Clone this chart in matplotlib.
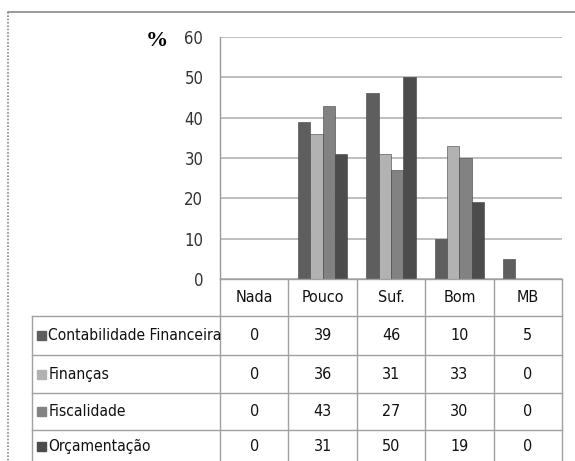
import matplotlib
matplotlib.use("Agg")
import matplotlib.pyplot as plt
from matplotlib.lines import Line2D
from matplotlib.patches import Rectangle
import numpy as np

categories = ["Nada", "Pouco", "Suf.", "Bom", "MB"]
series_names = ["Contabilidade Financeira", "Finanças", "Fiscalidade", "Orçamentação"]
contabilidade = [0, 39, 46, 10, 5]
financas = [0, 36, 31, 33, 0]
fiscalidade = [0, 43, 27, 30, 0]
orcamentacao = [0, 31, 50, 19, 0]
series_values = [contabilidade, financas, fiscalidade, orcamentacao]
colors = ["#5e5e5e", "#b2b2b2", "#828282", "#4c4c4c"]
yticks = [0, 10, 20, 30, 40, 50, 60]

W, H = 575, 461
fig = plt.figure(figsize=(W / 100, H / 100), dpi=100)
FONT = dict(family=["DejaVu Sans"], stretch="condensed")

def fx(x):
    return x / W

def fy(y):
    return 1 - y / H

def hline(x0, x1, y, **kw):
    fig.add_artist(Line2D([fx(x0), fx(x1)], [fy(y), fy(y)], transform=fig.transFigure, **kw))

def vline(x, y0, y1, **kw):
    fig.add_artist(Line2D([fx(x), fx(x)], [fy(y0), fy(y1)], transform=fig.transFigure, **kw))

# plot area
L, R, T, B = 220, 562, 37, 279
ax = fig.add_axes([fx(L), fy(B), fx(R) - fx(L), fy(T) - fy(B)])
n = len(series_names)
bw = 0.18
x = np.arange(len(categories))
for i, (vals, c) in enumerate(zip(series_values, colors)):
    ax.bar(x + (i - (n - 1) / 2) * bw, vals, width=bw, color=c,
           edgecolor="#404040", linewidth=0.4, zorder=3)
ax.set_xlim(-0.5, len(categories) - 0.5)
ax.set_ylim(0, 60)
ax.set_yticks(yticks)
ax.set_yticklabels([str(v) for v in yticks], fontsize=12, color="#333333", **FONT)
ax.tick_params(axis="y", length=0, pad=12)
ax.set_xticks([])
ax.yaxis.grid(True, color="#b4b4b4", linewidth=1.2, zorder=0)
for s in ["top", "right", "bottom"]:
    ax.spines[s].set_visible(False)
ax.spines["left"].set_color("#999999")
ax.spines["left"].set_linewidth(1.0)

fig.text(fx(157), fy(41), "%", fontsize=16, fontweight="bold",
         family="Liberation Serif", ha="center", va="center")

# outer frame
hline(8, 575, 12, color="#8a8a8a", linewidth=1.2)
vline(8, 12, 461, color="#8a8a8a", linewidth=1.2, linestyle=(0, (1, 1)))

# data table
lc = "#a0a0a0"
lw = 1.0
col_edges = [L + (R - L) * k / len(categories) for k in range(len(categories) + 1)]
row_edges = [279, 316, 355, 393, 430, 468]
TL = 32
hline(L, R, row_edges[0], color=lc, linewidth=lw)
for xe in col_edges:
    vline(xe, row_edges[0], row_edges[-1], color=lc, linewidth=lw)
vline(TL, row_edges[1], row_edges[-1], color=lc, linewidth=lw)
for ye in row_edges[1:]:
    hline(TL, R, ye, color=lc, linewidth=lw)

for j, cat in enumerate(categories):
    xc = (col_edges[j] + col_edges[j + 1]) / 2
    fig.text(fx(xc), fy((row_edges[0] + row_edges[1]) / 2), cat, fontsize=11.5,
             ha="center", va="center", color="#111111", **FONT)

for i, (name, vals, c) in enumerate(zip(series_names, series_values, colors)):
    yc = (row_edges[i + 1] + row_edges[i + 2]) / 2
    if i == n - 1:
        yc = 446
    fig.add_artist(Rectangle((fx(37), fy(yc + 4.5)), fx(9), 9 / H,
                             transform=fig.transFigure, color=c))
    fig.text(fx(48.5), fy(yc), name, fontsize=11.2, ha="left", va="center",
             color="#111111", **FONT)
    for j, v in enumerate(vals):
        xc = (col_edges[j] + col_edges[j + 1]) / 2
        fig.text(fx(xc), fy(yc), str(v), fontsize=11.5, ha="center", va="center",
                 color="#111111", **FONT)

fig.savefig("out.png", dpi=100)
